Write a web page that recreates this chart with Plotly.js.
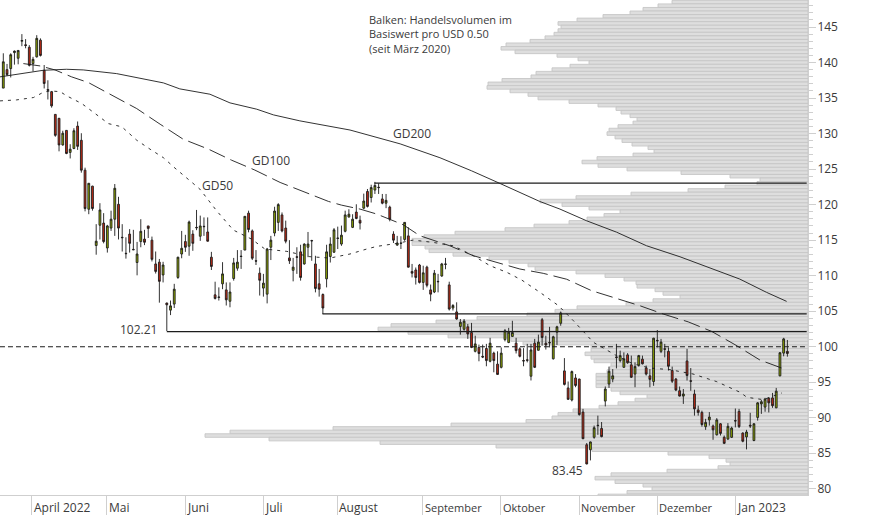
<!DOCTYPE html>
<html><head><meta charset="utf-8">
<script src="https://cdn.plot.ly/plotly-3.0.1.min.js"></script>
<style>html,body{margin:0;padding:0;background:#fff}#c{width:874px;height:515px}</style>
</head><body><div id="c"></div>
<script>
const opens=[136.4,139.0,139.15,141.4,140.6,143.0,142.5,142.15,139.85,140.8,143.15,138.9,136.2,135.9,132.7,132.15,128.4,130.45,127.35,127.9,131.05,129.05,124.85,119.35,122.6,
114.25,117.1,117.4,113.9,116.7,117.95,120.05,115.4,113.15,115.85,113.7,111.85,114.8,115.15,117.0,115.0,111.65,111.9,110.1,
106.15,105.15,106.0,109.75,113.05,114.8,114.15,115.85,116.8,115.55,116.95,116.15,112.6,107.3,107.0,108.85,108.0,106.4,109.6,111.05,112.75,113.6,118.8,116.3,112.1,110.35,108.25,107.4,114.0,116.0,117.5,118.55,116.7,112.5,110.75,112.65,113.35,111.65,114.0,114.95,111.65,108.85,107.35,109.55,112.7,113.3,115.3,114.45,116.25,118.25,116.8,118.95,117.8,119.5,121.85,121.0,122.05,122.45,120.8,120.2,119.65,115.85,114.3,114.6,115.1,115.6,110.6,110.8,111.5,109.05,111.2,108.0,107.7,109.2,109.95,111.65,108.7,105.45,104.9,102.85,102.45,102.8,102.0,99.35,99.9,98.65,99.75,97.95,99.1,97.55,97.1,101.0,100.6,101.45,100.5,99.7,98.05,98.15,95.85,100.5,99.5,103.8,100.5,100.6,98.3,102.05,103.3,96.6,94.2,92.5,95.6,95.45,90.8,86.2,85.5,87.25,88.95,88.5,92.35,94.75,95.45,98.55,98.05,97.1,98.85,97.45,96.15,97.4,98.25,97.0,95.9,95.1,100.9,99.35,99.7,99.35,96.65,95.45,93.8,93.05,98.0,95.2,93.35,91.1,90.75,88.75,89.7,88.85,87.6,89.15,87.25,87.0,87.25,89.6,90.9,87.85,87.3,88.95,86.8,90.05,91.95,91.5,92.75,92.8,91.4,95.9,99.1,99.35];
const highs=[141.3,139.8,141.3,141.7,141.75,144.0,143.3,142.45,140.8,143.85,143.4,139.65,137.5,136.0,132.75,132.2,130.4,130.5,128.5,130.75,131.7,130.05,125.2,123.05,122.65,
117.25,120.2,118.8,117.15,119.15,122.9,121.1,117.25,115.4,116.55,116.45,114.75,117.95,116.45,117.0,115.5,113.4,112.35,111.95,
106.2,106.5,108.85,112.65,116.3,115.75,117.75,116.4,119.25,118.45,118.2,118.2,113.35,109.15,108.35,111.9,109.05,109.05,112.5,113.6,113.6,118.4,119.15,116.5,113.6,111.15,110.25,113.9,115.6,119.7,120.2,118.9,117.75,115.0,112.5,114.0,114.35,114.55,116.15,115.05,112.8,110.95,107.5,114.35,115.4,116.7,116.9,117.05,119.15,119.35,118.65,120.05,118.45,121.55,122.2,122.8,123.2,123.0,121.5,121.5,119.85,116.25,115.6,115.55,117.55,116.8,111.65,111.15,111.65,111.4,111.4,108.75,110.8,110.25,111.8,112.5,109.15,106.0,106.25,103.9,103.9,103.2,103.35,101.55,100.3,100.3,100.4,101.25,99.3,99.35,99.9,102.5,102.65,103.65,101.25,99.9,99.8,100.4,100.4,101.1,101.7,104.05,101.55,102.8,101.55,102.95,104.95,98.4,95.1,96.65,96.15,95.5,91.25,86.45,86.65,88.9,90.3,89.4,94.4,97.2,96.85,100.4,99.45,99.2,99.1,98.75,97.8,98.85,98.75,97.35,96.85,101.25,102.35,101.1,100.4,99.9,97.2,95.6,94.4,94.05,99.7,97.0,93.95,91.7,91.0,89.85,90.8,89.05,89.95,89.25,87.5,89.25,88.75,91.3,91.25,87.95,88.3,90.7,89.25,92.2,92.5,92.8,92.9,93.5,94.2,99.25,101.25,100.95];
const lows=[136.4,138.1,137.9,139.7,139.75,142.3,142.0,139.45,138.75,140.7,140.85,136.35,134.8,133.65,129.55,127.5,128.3,127.1,126.5,127.8,127.7,124.5,119.05,118.65,119.15,
112.95,115.1,114.55,113.25,116.3,115.6,115.1,113.4,112.4,113.25,113.6,110.05,114.0,114.3,115.3,112.0,110.3,106.2,109.05,
102.21,104.45,105.45,109.55,112.45,113.35,112.8,113.5,116.4,114.9,115.6,114.8,110.8,106.65,106.5,108.1,105.8,105.55,109.3,110.7,110.95,113.6,116.1,112.2,111.5,107.2,107.05,106.1,112.2,115.55,116.3,116.1,114.55,111.65,109.2,110.25,109.3,111.55,112.6,112.1,107.65,107.05,104.6,108.35,111.85,113.2,113.75,114.2,116.1,118.2,116.7,117.95,116.5,119.35,119.6,120.3,121.5,121.5,120.05,119.5,117.65,114.6,114.2,113.75,114.9,111.15,109.75,108.75,108.9,108.0,108.35,106.4,107.55,107.65,109.85,110.9,105.1,105.1,103.8,101.7,102.25,101.1,99.8,99.2,97.95,98.4,97.25,97.8,96.4,96.05,96.95,100.75,100.5,101.4,99.05,98.5,97.25,97.8,95.25,97.0,99.45,100.15,99.6,99.9,98.2,100.25,102.95,94.55,92.5,92.3,94.3,90.3,87.0,83.45,84.0,87.05,87.6,87.25,91.6,94.2,95.0,96.95,97.8,97.05,97.6,95.6,94.3,97.2,97.5,95.95,94.3,94.5,99.9,99.1,98.5,96.65,94.9,93.75,93.0,91.95,95.25,93.8,90.3,90.3,88.75,88.3,88.9,86.9,87.5,87.5,86.3,86.9,87.15,88.65,88.55,86.55,85.55,88.55,86.7,89.6,90.55,90.85,90.75,91.4,91.35,95.85,98.65,98.6];
const closes=[140.1,138.3,141.1,141.6,141.7,143.1,142.4,139.6,140.45,143.4,141.0,137.05,136.1,133.9,129.75,128.4,130.05,127.2,127.8,130.4,128.2,124.85,119.45,123.0,119.45,
114.85,119.25,114.8,117.0,117.95,122.3,116.7,115.35,113.1,114.55,113.65,113.05,116.25,114.7,116.65,112.3,110.6,109.2,111.5,
105.9,105.75,108.1,112.6,113.85,114.0,117.55,114.55,116.75,117.0,116.9,114.85,111.3,106.8,106.95,110.25,106.6,107.7,111.8,111.9,112.7,118.35,116.5,112.45,112.05,109.35,108.95,113.75,115.0,119.1,120.0,116.3,114.85,112.1,111.2,112.6,109.75,114.45,114.45,114.9,108.2,108.1,105.45,113.35,114.45,116.45,115.25,115.7,118.55,118.65,117.95,118.05,117.4,120.5,119.75,122.4,122.7,122.4,120.2,120.6,117.95,115.0,114.6,114.55,117.5,111.2,110.35,109.75,109.05,110.4,108.65,107.4,110.35,109.15,111.65,111.6,105.3,105.8,103.9,103.45,103.6,101.8,99.9,100.4,99.05,98.55,98.05,100.5,98.05,96.1,99.1,102.25,102.05,102.0,99.45,98.65,98.0,98.1,99.55,97.1,100.65,101.3,100.25,100.55,101.4,102.8,104.75,94.7,92.6,96.5,94.55,90.45,87.05,83.5,86.6,88.6,88.9,87.35,94.05,96.55,95.9,98.5,98.75,98.3,97.75,95.7,97.2,98.75,97.6,96.15,95.4,101.2,100.85,100.65,99.65,97.25,95.15,93.9,93.05,93.35,95.95,95.15,91.25,90.75,89.05,89.35,90.1,88.3,89.7,87.8,86.4,88.8,88.55,89.55,88.75,86.7,88.0,88.85,89.15,92.1,92.25,92.65,92.1,91.7,93.75,99.15,101.1,99.05];

const volPrices=[148.5,148,147.5,147,146.5,146,145.5,145,144.5,144,143.5,143,142.5,142,141.5,141,140.5,140,139.5,139,138.5,138,137.5,137,136.5,136,135.5,135,134.5,134,133.5,133,132.5,132,131.5,131,130.5,130,129.5,129,128.5,128,127.5,127,126.5,126,125.5,125,124.5,124,123.5,123,122.5,122,121.5,121,120.5,120,119.5,119,118.5,118,117.5,117,116.5,116,115.5,115,114.5,114,113.5,113,112.5,112,111.5,111,110.5,110,109.5,109,108.5,108,107.5,107,106.5,106,105.5,105,104.5,104,103.5,103,102.5,102,101.5,101,100.5,100,99.5,99,98.5,98,97.5,97,96.5,96,95.5,95,94.5,94,93.5,93,92.5,92,91.5,91,90.5,90,89.5,89,88.5,88,87.5,87,86.5,86,85.5,85,84.5,84,83.5,83,82.5,82,81.5,81,80.5,80,79.5,79];
const volumes=[136,150,165,178,205,231,250,247,250,254,263,278,302,307,293,251,230,219,238,256,272,277,306,320,321,298,280,270,239,210,192,187,178,171,175,190,199,201,193,186,176,160,154,175,211,226,210,181,127,78,48,51,83,120,177,232,268,246,219,188,204,221,239,274,303,353,384,396,396,383,379,355,319,299,280,273,232,203,184,172,171,153,145,128,155,182,231,253,281,331,372,417,430,400,360,297,285,217,217,223,217,214,197,198,201,212,212,212,212,197,188,161,173,190,209,235,250,256,282,357,475,578,603,539,428,312,216,140,99,82,78,90,141,197,213,193,165,156,181,210];

const gd200Idx=[-0.9,4.5,10.8,17,21.5,30.5,37.7,43.1,47.5,55.6,61,68.2,72.7,79.8,93.3,106.8,117.5,126,133.7,144.4,149.8,157,165,173.1,182.1,189.3,198.2,205.4,210.8];
const gd200Val=[137.98,138.44,138.91,139.05,138.96,138.44,137.74,137.13,136.29,135.54,134.32,133.43,132.63,131.79,130.5,128.55,126.6,124.76,122.97,120.44,119.37,117.72,116.13,114.21,112.66,111.26,109.52,107.65,106.38];
const gd100Idx=[5.4,9.9,13.9,18.4,22.9,29.2,35.9,42.2,48.4,55.2,61.4,67.7,74.5,82.5,87.5,91,96,100.5,107.6,112.1,120.2,126.5,132.8,139,145.3,151.6,158.3,165,171.3,177.6,184.3,190.6,196.9,203.6,208.5,210.4];
const gd100Val=[139.85,139.52,138.96,137.98,137.18,135.45,133.52,131.32,129.21,127.81,126.26,124.86,123.12,121.48,120.45,119.93,119.37,118.67,117.17,115.62,114.2,112.81,111.87,110.94,110.33,109.5,107.89,106.8,105.77,104.6,103.5,102.16,100.29,98.13,97.2,96.82];
const gd50Idx=[-0.9,3.6,8.1,10.8,12.6,15.3,17.1,21.1,24.7,28.3,31.9,35.9,39.5,43.1,46.2,52.9,57.4,61.9,66.8,70.4,76.3,82.5,87.9,93.3,97.8,100.5,105.9,110.3,115.7,121.1,126.5,131,135.5,139.5,144.4,149.4,153.4,158.8,165,169.5,174,179.4,185.6,192,198.3,200.1,204.5,209.5];
const gd50Val=[134.6,134.74,135.07,135.82,136,135.9,135.3,134.23,132.82,131.4,130.95,129.07,127.8,126.6,125.14,122.18,119.14,116.42,115.15,113.75,113.42,112.67,112.48,113.05,113.75,114.12,114.54,115.01,114.68,114.2,112.81,111.4,110.47,109.39,107.66,105.78,103.67,100.62,98.75,97.58,97,96.77,96.16,95.08,93.58,92.88,92.55,93.49];

const supportLevels=[123.03,104.61,102.12];
const supportStart=[99.9,85.9,44];
const chartEnd=216.2, chartStart=-0.9;
const refLevel=100;

const monthTicks=[7.7,27.9,48.9,69.9,89.8,112.9,133.9,155.0,176.0,197.0];
const monthLabels=['April 2022','Mai','Juni','Juli','August','September','Oktober','November','Dezember','Jan 2023'];
const monthSizes=[12,12,12,12,12,11,11,11,11,12];

const ink='#1c1c1c', textCol='#3a3a3a', axisCol='#cfcfcf';
const idx=opens.map((_,i)=>i);
const lineTrace=(x,y,dash,w)=>({type:'scatter',mode:'lines',x,y,xaxis:'x2',yaxis:'y',hoverinfo:'skip',showlegend:false,line:{color:ink,width:w||1,dash:dash||'solid'}});

const traces=[
 {type:'bar',orientation:'h',x:volumes,y:volPrices,xaxis:'x',yaxis:'y',width:0.5,hoverinfo:'skip',showlegend:false,
  marker:{color:'#dedede',line:{color:'#c6c6c6',width:0.9}}},
 ...supportLevels.map((lv,i)=>lineTrace([supportStart[i],chartEnd],[lv,lv],'solid',1.3)),
 lineTrace([chartStart,chartEnd],[refLevel,refLevel],'5px,3px',1.1),
 {type:'candlestick',x:idx,open:opens,high:highs,low:lows,close:closes,xaxis:'x2',yaxis:'y',hoverinfo:'skip',showlegend:false,whiskerwidth:0,
  increasing:{line:{color:ink,width:0.9},fillcolor:'#90a800'},
  decreasing:{line:{color:ink,width:0.9},fillcolor:'#c42a14'}},
 lineTrace(gd200Idx,gd200Val,'solid',0.9),
 lineTrace(gd100Idx,gd100Val,'17px,6px',0.9),
 lineTrace(gd50Idx,gd50Val,'3px,5px',0.9)
];

const fam='"Open Sans",sans-serif';
const note=(x,y,text,size)=>({x,y,text,xref:'x2',yref:'y',xanchor:'left',yanchor:'middle',align:'left',showarrow:false,borderpad:0,font:{size:size||12,color:textCol,family:fam}});
const annotations=[
 note(98.1,144.0,'Balken: Handelsvolumen im<br>Basiswert pro USD 0.50<br>(seit März 2020)',11),
 note(104.7,129.96,'GD200'),
 note(66.7,126.16,'GD100'),
 note(53.3,122.65,'GD50'),
 note(31.2,102.4,'102.21'),
 note(147.4,82.57,'83.45'),
 ...monthTicks.map((t,i)=>({x:t,y:0,xref:'x2',yref:'paper',yshift:-12,xshift:1,text:monthLabels[i],xanchor:'left',yanchor:'middle',showarrow:false,borderpad:0,font:{size:monthSizes[i],color:textCol,family:fam}}))
];

const layout={
 width:874,height:515,margin:{l:0,r:66,t:0,b:19.5,pad:0},
 paper_bgcolor:'#fff',plot_bgcolor:'#fff',
 font:{family:fam,size:12,color:textCol},
 showlegend:false,bargap:0,
 xaxis:{range:[808,0],visible:false,fixedrange:true,domain:[0,1]},
 xaxis2:{overlaying:'x',anchor:'y',side:'bottom',range:[-0.888,216.55],rangeslider:{visible:false},fixedrange:true,
   showgrid:false,zeroline:false,showline:true,linecolor:axisCol,linewidth:1,
   tickmode:'array',tickvals:monthTicks,ticktext:monthLabels.map(()=>''),ticks:'outside',ticklen:20,tickcolor:axisCol,tickwidth:1},
 yaxis:{range:[79.13,148.8],side:'right',anchor:'x',fixedrange:true,showgrid:false,zeroline:false,showline:true,linecolor:axisCol,linewidth:1,
   tickmode:'array',tickvals:[80,85,90,95,100,105,110,115,120,125,130,135,140,145],ticks:'outside',ticklen:7,tickcolor:axisCol,tickwidth:1,ticklabelstandoff:-1,
   minor:{dtick:1,ticks:'outside',ticklen:4,tickcolor:axisCol,tickwidth:1,showgrid:false},
   tickfont:{size:12,color:textCol,family:fam}},
 annotations
};
Plotly.newPlot('c',traces,layout,{displayModeBar:false,staticPlot:true});
</script></body></html>
